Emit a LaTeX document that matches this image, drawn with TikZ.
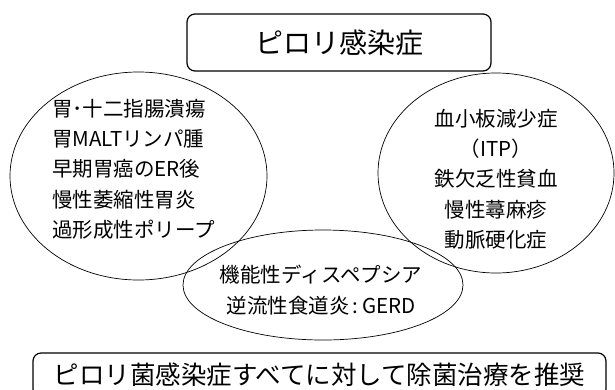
\documentclass[tikz,border=0pt]{standalone}
\usepackage{fontspec}
\setmainfont{Noto Sans CJK JP}
\usetikzlibrary{shapes.geometric}
\tikzset{
  titlebox/.style={draw, line width=1.2pt, rounded corners=8pt, inner sep=0pt},
  group/.style={draw, ellipse, line width=0.7pt, inner sep=0pt},
  itemtext/.style={inner sep=0pt, font=\fontsize{20.5}{30.3}\selectfont},
}
\begin{document}
\begin{tikzpicture}[x=1pt,y=-1pt]
\useasboundingbox (0,0) rectangle (615,389);
% circles
\node[group, minimum width=257pt, minimum height=208pt] (left) at (138.5,176) {};
\node[group, minimum width=236pt, minimum height=200pt] (right) at (496,173) {};
\node[group, minimum width=280pt, minimum height=110pt] (mid) at (323,285) {};
% title boxes
\node[titlebox, minimum width=304pt, minimum height=57pt, font=\fontsize{28}{30}\selectfont] (title) at (339,42.5) {ピロリ感染症};
\node[titlebox, minimum width=573pt, minimum height=44pt, font=\fontsize{25.5}{28}\selectfont] (bottom) at (319.5,375) {ピロリ菌感染症すべてに対して除菌治療を推奨};
% texts
\node[itemtext, align=left, anchor=west] (lefttext) at (52,169) {胃･十二指腸潰瘍\\胃MALTリンパ腫\\早期胃癌のER後\\慢性萎縮性胃炎\\過形成性ポリープ};
\node[itemtext, align=center] (righttext) at (496,179) {血小板減少症\\（ITP）\\鉄欠乏性貧血\\慢性蕁麻疹\\動脈硬化症};
\node[itemtext, align=center] (midtext) at (321,290) {機能性ディスペプシア\\逆流性食道炎\,:\,GERD};
\end{tikzpicture}
\end{document}
